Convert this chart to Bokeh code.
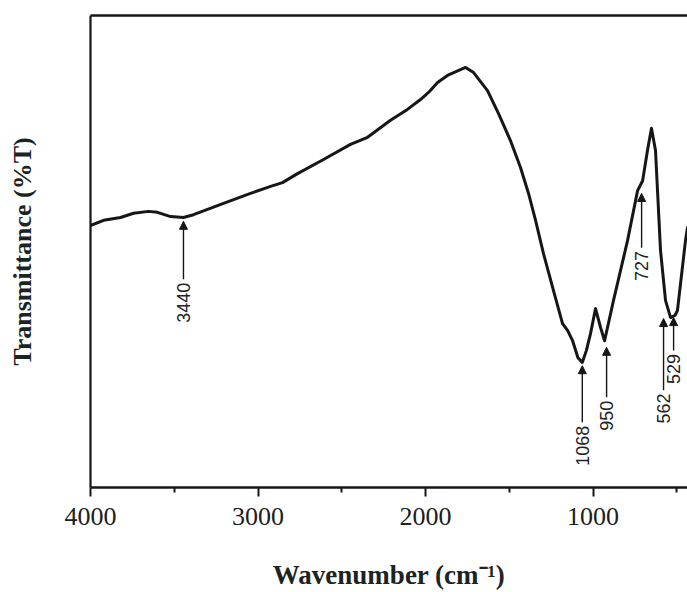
import numpy as np
from bokeh.plotting import figure
from bokeh.models import Range1d, LinearAxis, FixedTicker, Arrow, NormalHead, ColumnDataSource
from bokeh.core.properties import value
from bokeh.embed import file_html
from bokeh.resources import INLINE

# ---- data ----
wavenumber = [4000, 3922, 3821, 3743, 3654, 3600, 3522, 3445, 3385, 3206, 3045, 2925, 2854,
              2764, 2609, 2448, 2346, 2209, 2108, 2030, 1982, 1928, 1869, 1761, 1713, 1630,
              1564, 1493, 1433, 1385, 1343, 1296, 1236, 1182, 1152, 1122, 1090, 1064, 1040,
              1015, 985, 955, 931, 878, 794, 734, 704, 675, 651, 627, 597, 567, 537, 510,
              496, 448, 436]
transmittance = [55.5, 56.6, 57.2, 58.1, 58.5, 58.3, 57.4, 57.2, 57.8, 60.2, 62.3, 63.8, 64.6,
                 66.5, 69.5, 72.7, 74.2, 77.8, 80.1, 82.2, 83.7, 85.8, 87.3, 89.0, 87.9, 84.1,
                 79.2, 73.5, 67.8, 62.3, 56.6, 49.6, 41.7, 34.7, 33.3, 31.1, 27.5, 26.5, 29.0,
                 32.6, 37.9, 33.9, 31.1, 39.6, 52.3, 62.9, 65.0, 71.4, 76.1, 71.4, 50.2, 39.6,
                 36.0, 36.5, 37.5, 52.3, 55.1]

peak_labels = ["3440", "1068", "950", "727", "562", "529"]
arrow_x = [3445, 1064, 919, 710, 579, 519]
arrow_head_y = [56.4, 25.8, 29.7, 62.3, 35.8, 36.0]
arrow_tail_y = [44.1, 13.8, 19.1, 50.8, 20.6, 29.0]

x_major = [4000, 3000, 2000, 1000]
x_minor = [3500, 2500, 1500, 500]

INK = "#161616"

p = figure(width=687, height=592, output_backend="svg", toolbar_location=None,
           x_range=Range1d(4000, 436), y_range=Range1d(0, 100),
           x_axis_location=None, y_axis_location=None,
           min_border_left=90, min_border_right=0, min_border_top=15, min_border_bottom=105)
p.outline_line_color = None
p.grid.visible = False
p.background_fill_color = "white"
p.border_fill_color = "white"

# bottom axis
xb = LinearAxis(ticker=FixedTicker(ticks=x_major, minor_ticks=x_minor))
xb.axis_line_width = 2.5
xb.axis_line_color = INK
xb.major_tick_in = 0
xb.major_tick_out = 9
xb.minor_tick_in = 0
xb.minor_tick_out = 5
xb.major_tick_line_width = 2
xb.minor_tick_line_width = 2
xb.major_tick_line_color = INK
xb.minor_tick_line_color = INK
xb.major_label_text_font = "Liberation Serif"
xb.major_label_text_font_size = "26px"
xb.major_label_text_color = "#202020"
xb.major_label_standoff = 11
xb.axis_label = "Wavenumber (cm\u207b\u00b9)"
xb.axis_label_text_font = "Liberation Serif"
xb.axis_label_text_font_style = "bold"
xb.axis_label_text_font_size = "27px"
xb.axis_label_text_color = "#1c241f"
xb.axis_label_standoff = 32
p.add_layout(xb, "below")

# left axis (line + label only)
yl = LinearAxis(ticker=FixedTicker(ticks=[]))
yl.axis_line_width = 2.2
yl.axis_line_color = INK
yl.major_tick_out = 0
yl.major_tick_in = 0
yl.minor_tick_out = 0
yl.minor_tick_in = 0
yl.major_label_text_font_size = "0px"
yl.axis_label = "Transmittance (%T)"
yl.axis_label_text_font = "Liberation Serif"
yl.axis_label_text_font_style = "bold"
yl.axis_label_text_font_size = "26px"
yl.axis_label_text_color = "#1c241f"
yl.axis_label_standoff = 54
p.add_layout(yl, "left")

# top line
xt = LinearAxis(ticker=FixedTicker(ticks=[]))
xt.axis_line_width = 2.5
xt.axis_line_color = INK
xt.major_tick_out = 0
xt.major_tick_in = 0
xt.minor_tick_out = 0
xt.minor_tick_in = 0
xt.major_label_text_font_size = "0px"
p.add_layout(xt, "above")

# spectrum
p.line(wavenumber, transmittance, line_width=3, line_color=INK, line_join="round", line_cap="round")

# peak arrows
src = ColumnDataSource(dict(x=arrow_x, y0=arrow_tail_y, y1=arrow_head_y))
p.add_layout(Arrow(end=NormalHead(size=8, fill_color=INK, line_color=INK, line_width=1),
                   source=src, x_start="x", y_start="y0", x_end="x", y_end="y1",
                   line_width=1.4, line_color=INK))

label_y = [t - 0.7 for t in arrow_tail_y]
p.text(x=arrow_x, y=label_y, text=peak_labels, angle=np.pi / 2,
       text_align="right", text_baseline="middle",
       text_font=value("Liberation Sans"), text_font_size="18px", text_color="#222222")

open("out.html", "w").write(file_html(p, INLINE))
